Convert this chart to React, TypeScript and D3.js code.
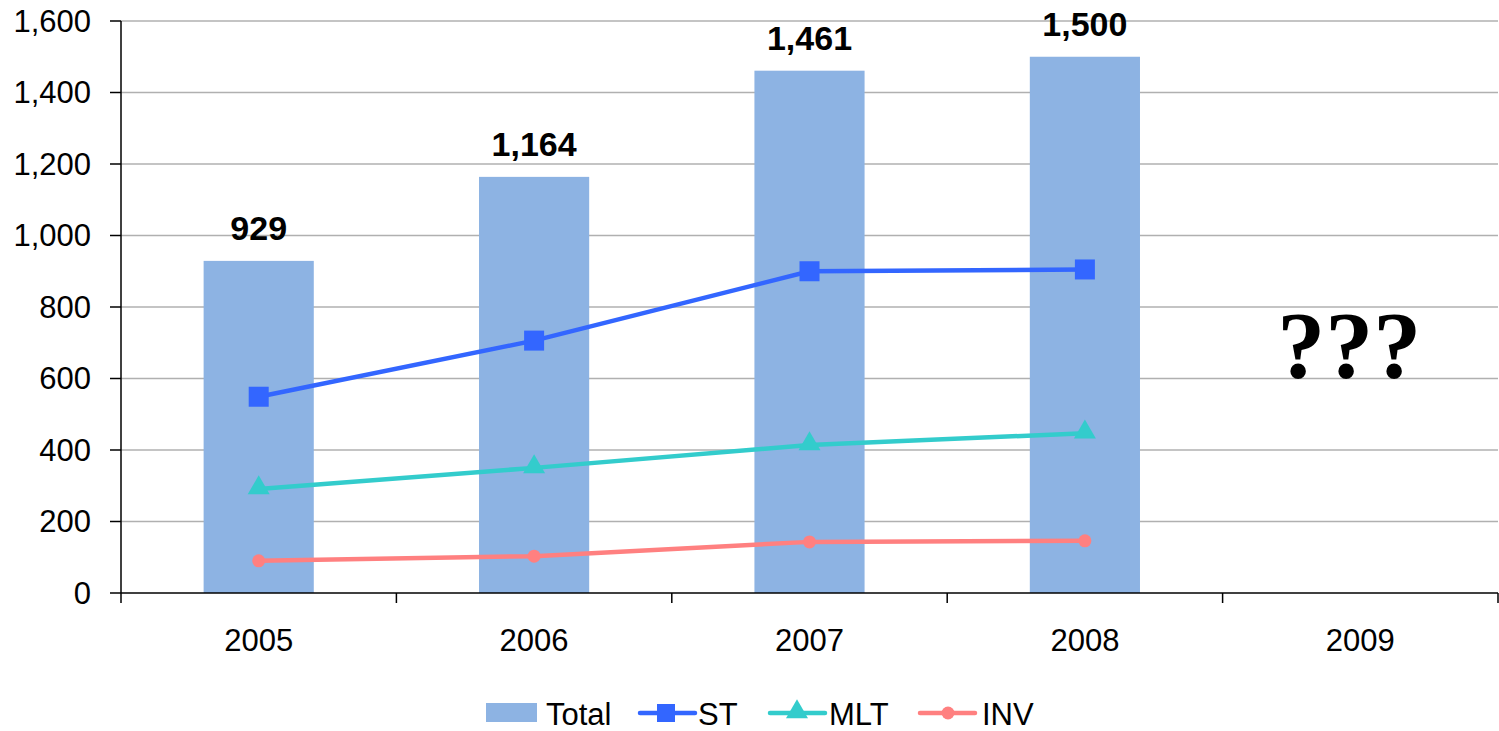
import React from "react";
import * as d3 from "d3";

const years = ["2005", "2006", "2007", "2008", "2009"];
const totalValues = [929, 1164, 1461, 1500];
const stValues = [549, 706, 900, 905];
const mltValues = [291, 350, 414, 447];
const invValues = [90, 103, 143, 146];
const yTicks = [0, 200, 400, 600, 800, 1000, 1200, 1400, 1600];

const W = 1499;
const H = 731;
const margin = { left: 121, right: 1, top: 21, bottom: 138 };

const BAR_COLOR = "#8DB3E3";
const ST_COLOR = "#3366FF";
const MLT_COLOR = "#33CCCC";
const INV_COLOR = "#FF8080";
const FONT = "'Liberation Sans', Arial, sans-serif";

export default function App() {
  const x = d3
    .scaleBand<string>()
    .domain(years)
    .range([margin.left, W - margin.right])
    .padding(0);
  const y = d3
    .scaleLinear()
    .domain([0, 1600])
    .range([H - margin.bottom, margin.top]);
  const step = x.step();
  const barW = step * 0.4;
  const cx = (i: number) => (x(years[i]) as number) + step / 2;
  const fmt = d3.format(",");

  const line = d3
    .line<number>()
    .x((_, i) => cx(i))
    .y((d) => y(d));

  const tri = d3.symbol().type(d3.symbolTriangle).size(210)();
  const x0 = margin.left;
  const x1 = W - margin.right;
  const yBase = y(0);

  const legendY = 713;

  return (
    <svg
      width={W}
      height={H}
      style={{ position: "absolute", left: 0, top: 0, background: "#fff" }}
      fontFamily={FONT}
    >
      {/* horizontal gridlines */}
      {yTicks.slice(1).map((t) => (
        <line key={t} x1={x0} x2={x1} y1={y(t)} y2={y(t)} stroke="#B0B0B0" strokeWidth={1.5} />
      ))}

      {/* bars */}
      {totalValues.map((v, i) => (
        <rect key={i} x={cx(i) - barW / 2} y={y(v)} width={barW} height={yBase - y(v)} fill={BAR_COLOR} />
      ))}

      {/* bar value labels */}
      {totalValues.map((v, i) => (
        <text
          key={i}
          x={cx(i)}
          y={y(v) - 21}
          textAnchor="middle"
          fontSize={34}
          fontWeight="bold"
          fill="#000"
        >
          {fmt(v)}
        </text>
      ))}

      {/* y axis */}
      <line x1={x0} x2={x0} y1={margin.top} y2={yBase + 10} stroke="#000" strokeWidth={1.5} />
      {yTicks.map((t) => (
        <g key={t}>
          <line x1={x0 - 11} x2={x0} y1={y(t)} y2={y(t)} stroke="#000" strokeWidth={1.5} />
          <text x={91} y={y(t) + 10.5} textAnchor="end" fontSize={31} fill="#000">
            {fmt(t)}
          </text>
        </g>
      ))}

      {/* x axis */}
      <line x1={x0} x2={x1} y1={yBase} y2={yBase} stroke="#000" strokeWidth={1.5} />
      {years.map((yr, i) => (
        <line
          key={"t" + i}
          x1={(x(yr) as number) + step}
          x2={(x(yr) as number) + step}
          y1={yBase}
          y2={yBase + 10}
          stroke="#000"
          strokeWidth={1.5}
        />
      ))}
      {years.map((yr, i) => (
        <text key={yr} x={cx(i)} y={651} textAnchor="middle" fontSize={31} fill="#000">
          {yr}
        </text>
      ))}

      {/* series lines */}
      <path d={line(stValues) || ""} fill="none" stroke={ST_COLOR} strokeWidth={4.5} />
      <path d={line(mltValues) || ""} fill="none" stroke={MLT_COLOR} strokeWidth={4.5} />
      <path d={line(invValues) || ""} fill="none" stroke={INV_COLOR} strokeWidth={4.5} />

      {stValues.map((v, i) => (
        <rect key={"s" + i} x={cx(i) - 10} y={y(v) - 10} width={20} height={20} fill={ST_COLOR} />
      ))}
      {mltValues.map((v, i) => (
        <path key={"m" + i} d={tri || ""} transform={`translate(${cx(i)},${y(v) - 1})`} fill={MLT_COLOR} />
      ))}
      {invValues.map((v, i) => (
        <circle key={"c" + i} cx={cx(i)} cy={y(v)} r={6.5} fill={INV_COLOR} />
      ))}

      {/* annotation for the unknown year */}
      <text
        x={cx(4) - 11}
        y={378}
        textAnchor="middle"
        fontSize={96}
        fontWeight="bold"
        fontFamily="'Liberation Serif', 'Times New Roman', serif"
        fill="#000"
      >
        ???
      </text>

      {/* legend */}
      <g fontSize={31} fill="#000">
        <rect x={486} y={703} width={51} height={19} fill={BAR_COLOR} />
        <text x={546} y={725}>Total</text>

        <line x1={640} x2={695} y1={legendY} y2={legendY} stroke={ST_COLOR} strokeWidth={4.5} strokeLinecap="round" />
        <rect x={657} y={legendY - 9} width={18} height={18} fill={ST_COLOR} />
        <text x={698} y={725}>ST</text>

        <line x1={770} x2={825} y1={legendY} y2={legendY} stroke={MLT_COLOR} strokeWidth={4.5} strokeLinecap="round" />
        <path d={tri || ""} transform={`translate(797,${legendY - 1})`} fill={MLT_COLOR} />
        <text x={829} y={725}>MLT</text>

        <line x1={920} x2={975} y1={legendY} y2={legendY} stroke={INV_COLOR} strokeWidth={4.5} strokeLinecap="round" />
        <circle cx={948} cy={legendY} r={6.5} fill={INV_COLOR} />
        <text x={982} y={725}>INV</text>
      </g>
    </svg>
  );
}
